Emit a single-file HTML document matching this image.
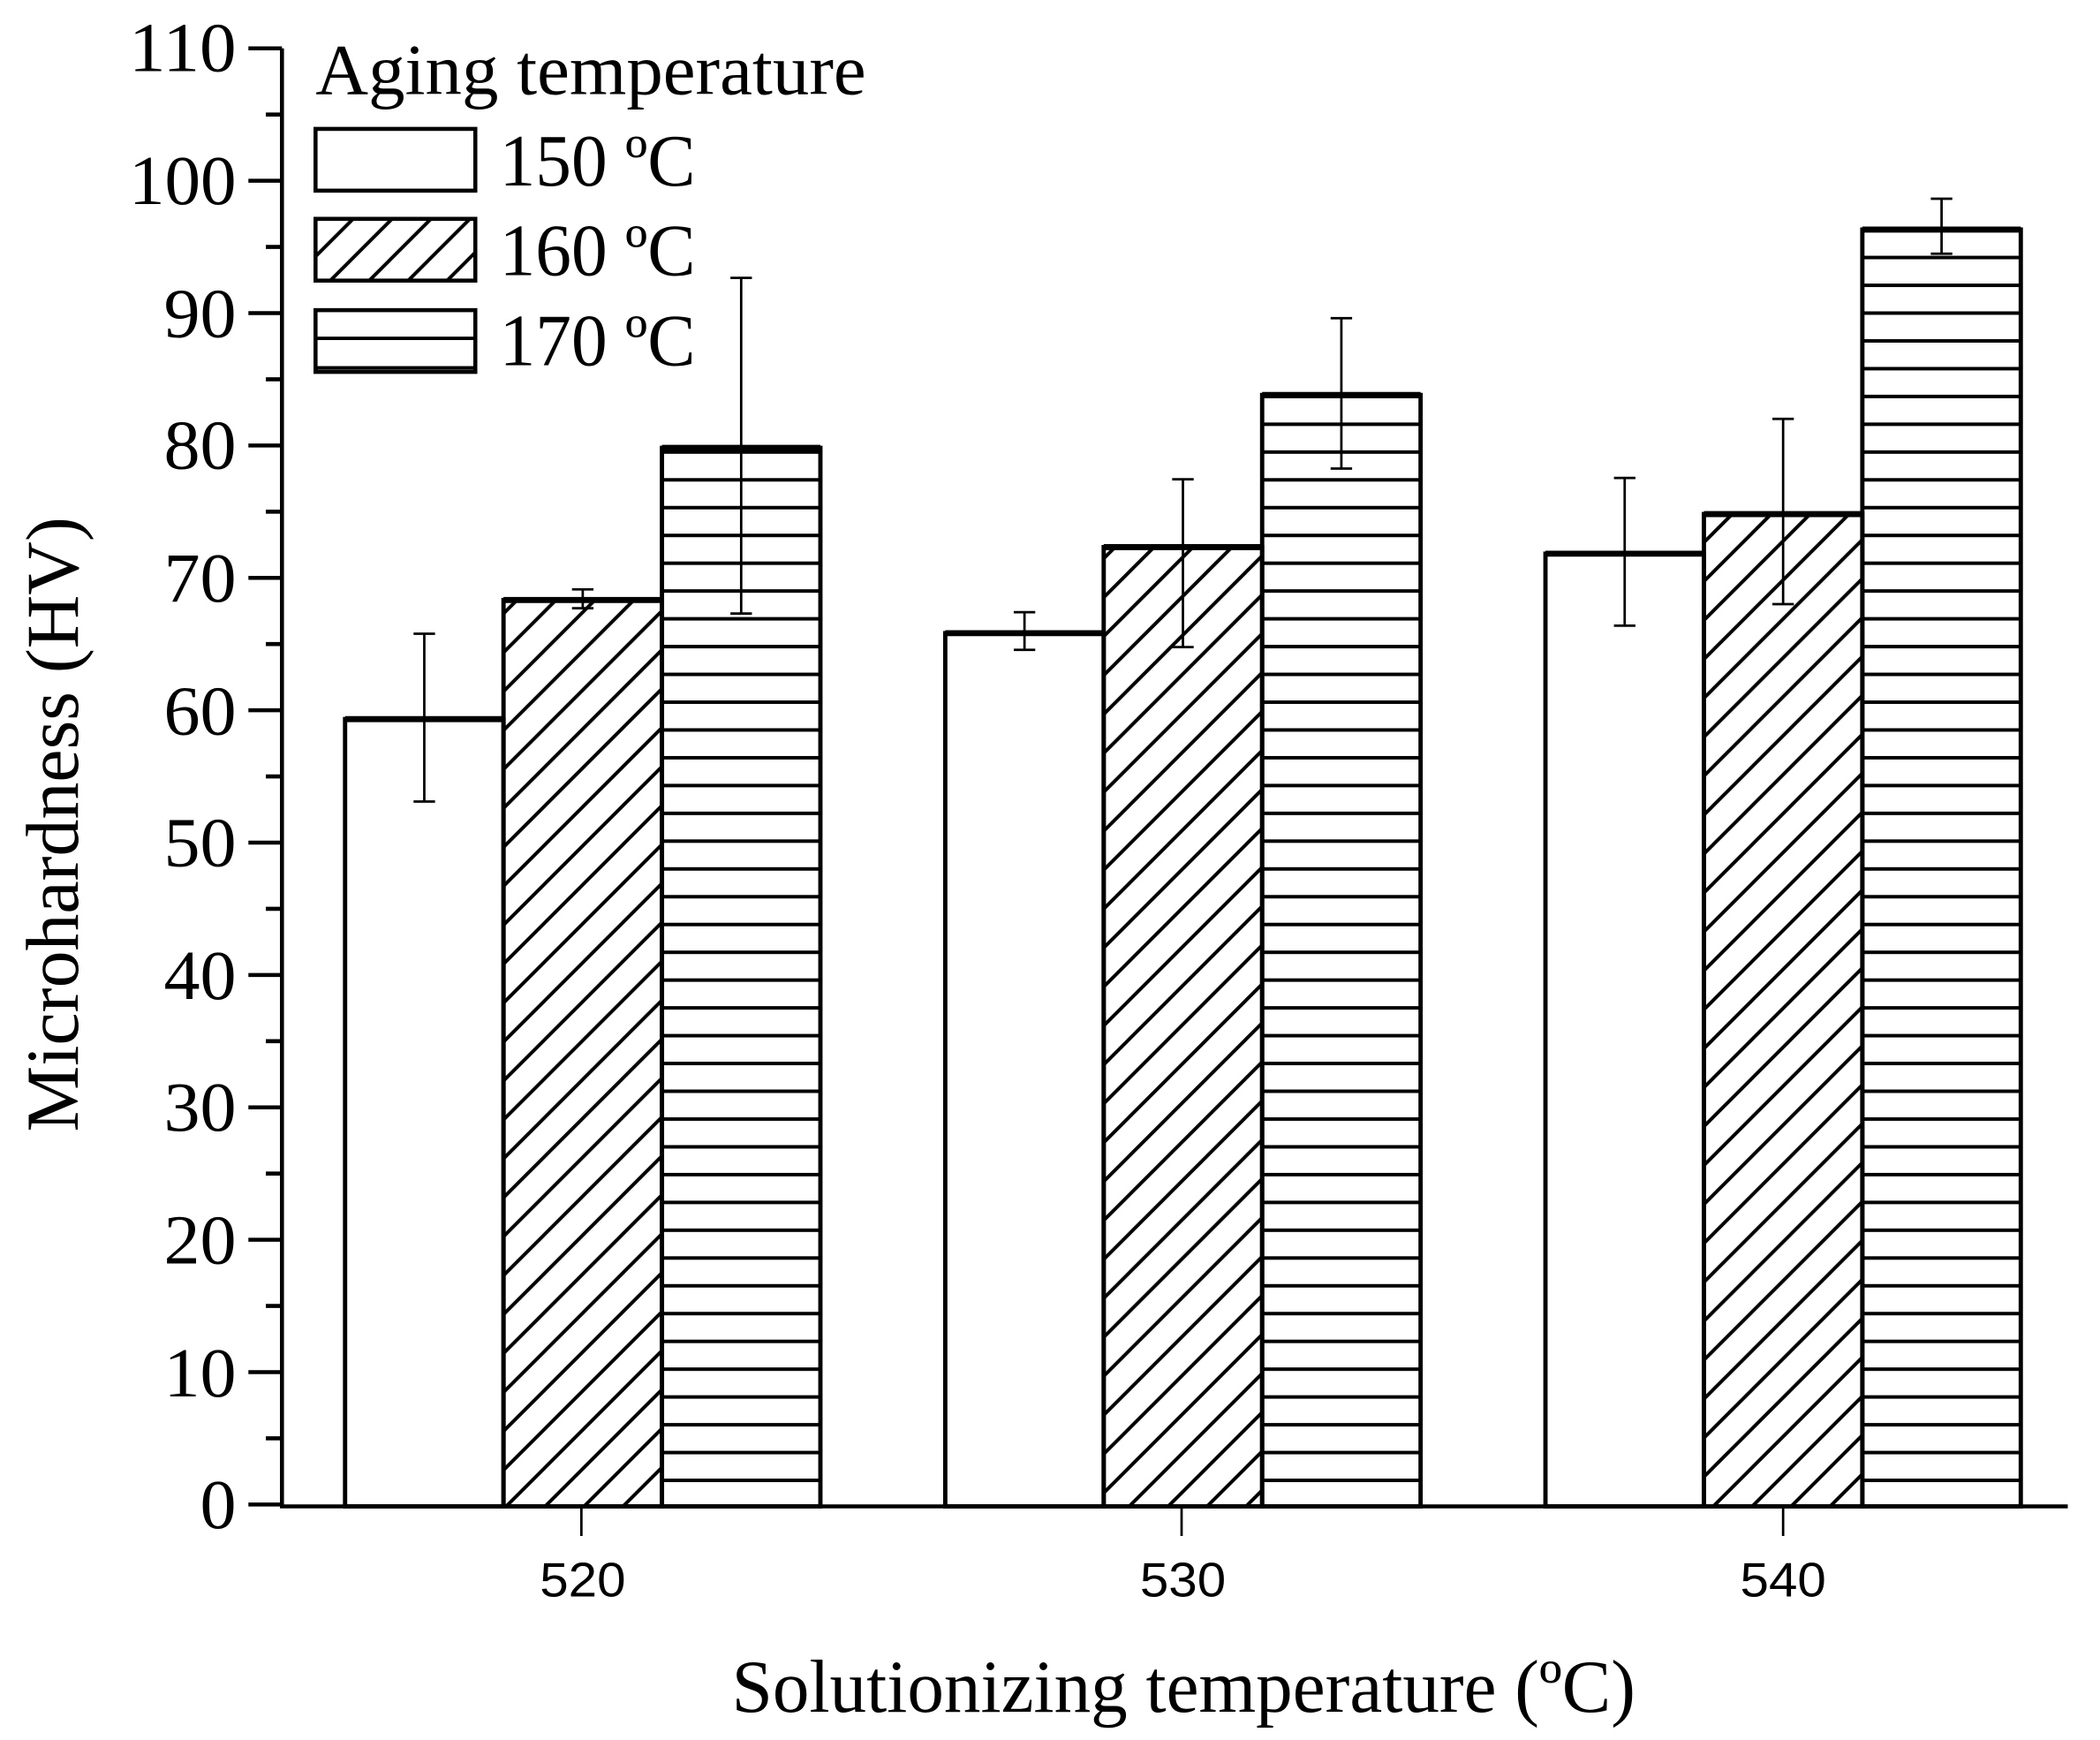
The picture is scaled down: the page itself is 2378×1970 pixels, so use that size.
<!DOCTYPE html>
<html><head><meta charset="utf-8"><style>html,body{margin:0;padding:0;background:#fff}svg{display:block}</style></head>
<body>
<svg width="2378" height="1970" viewBox="0 0 1564 1296" preserveAspectRatio="none" xmlns="http://www.w3.org/2000/svg">
<defs>
<pattern id="diag" patternUnits="userSpaceOnUse" width="29" height="29" x="0" y="1122">
<path d="M-3,32 L32,-3 M-3,3 L3,-3 M26,32 L32,26" stroke="#000" stroke-width="2.6"/>
</pattern>
<pattern id="hor" patternUnits="userSpaceOnUse" width="40" height="20.7" x="0" y="1122">
<rect x="0" y="0" width="40" height="2.6" fill="#000"/>
</pattern>
</defs>
<rect width="1564" height="1296" fill="#fff"/>
<g stroke="#000" stroke-width="3.2" fill="#fff">
<rect x="257" y="535.6" width="118" height="586.4"/>
<rect x="375" y="446.9" width="118" height="675.1" fill="url(#diag)"/>
<rect x="493" y="333.6" width="118" height="788.4" fill="url(#hor)"/>
<rect x="704" y="471.6" width="118" height="650.4"/>
<rect x="822" y="407.5" width="118" height="714.5" fill="url(#diag)"/>
<rect x="940" y="294.2" width="118" height="827.8" fill="url(#hor)"/>
<rect x="1151" y="412.4" width="118" height="709.6"/>
<rect x="1269" y="382.9" width="118" height="739.1" fill="url(#diag)"/>
<rect x="1387" y="171" width="118" height="951" fill="url(#hor)"/>
</g>
<g stroke="#000" stroke-width="4.5">
<path d="M257,535.6H375M375,446.9H493M493,333.6H611M704,471.6H822M822,407.5H940M940,294.2H1058M1151,412.4H1269M1269,382.9H1387M1387,171H1505"/>
</g>
<g stroke="#000" stroke-width="1.8" fill="none">
<path d="M316,472V597M308,472H324M308,597H324"/>
<path d="M434,439V453M426,439H442M426,453H442"/>
<path d="M552,207V457M544,207H560M544,457H560"/>
<path d="M763,456V484M755,456H771M755,484H771"/>
<path d="M881,357V482M873,357H889M873,482H889"/>
<path d="M999,237V349M991,237H1007M991,349H1007"/>
<path d="M1210,356V466M1202,356H1218M1202,466H1218"/>
<path d="M1328,312V450M1320,312H1336M1320,450H1336"/>
<path d="M1446,148V189M1438,148H1454M1438,189H1454"/>
</g>
<g stroke="#000" stroke-width="3" fill="none">
<path d="M210,36V1122H1540"/>
<path d="M185,36H210M185,134.6H210M185,233.2H210M185,331.8H210M185,430.4H210M185,529H210M185,627.6H210M185,726.2H210M185,824.8H210M185,923.4H210M185,1022H210M185,1120.6H210"/>
<path d="M198,85.3H210M198,183.9H210M198,282.5H210M198,381.1H210M198,479.7H210M198,578.3H210M198,676.9H210M198,775.5H210M198,874.1H210M198,972.7H210M198,1071.3H210"/>
</g>
<g stroke="#000" stroke-width="1.8"><path d="M433,1122V1144M880,1122V1144M1328,1122V1144"/></g>
<g font-family="Liberation Serif, serif" font-size="52" text-anchor="end" fill="#000" lengthAdjust="spacingAndGlyphs">
<text x="176" y="53" textLength="80" lengthAdjust="spacingAndGlyphs">110</text><text x="176" y="152" textLength="80" lengthAdjust="spacingAndGlyphs">100</text><text x="176" y="251" textLength="54" lengthAdjust="spacingAndGlyphs">90</text>
<text x="176" y="349" textLength="54" lengthAdjust="spacingAndGlyphs">80</text><text x="176" y="448" textLength="54" lengthAdjust="spacingAndGlyphs">70</text><text x="176" y="547" textLength="54" lengthAdjust="spacingAndGlyphs">60</text>
<text x="176" y="645" textLength="54" lengthAdjust="spacingAndGlyphs">50</text><text x="176" y="744" textLength="54" lengthAdjust="spacingAndGlyphs">40</text><text x="176" y="842" textLength="54" lengthAdjust="spacingAndGlyphs">30</text>
<text x="176" y="941" textLength="54" lengthAdjust="spacingAndGlyphs">20</text><text x="176" y="1040" textLength="54" lengthAdjust="spacingAndGlyphs">10</text><text x="176" y="1138" textLength="27" lengthAdjust="spacingAndGlyphs">0</text>
</g>
<g font-family="Liberation Sans, sans-serif" font-size="36" text-anchor="middle" fill="#000">
<text x="434" y="1189" textLength="64" lengthAdjust="spacingAndGlyphs">520</text><text x="881" y="1189" textLength="64" lengthAdjust="spacingAndGlyphs">530</text><text x="1328" y="1189" textLength="64" lengthAdjust="spacingAndGlyphs">540</text>
</g>
<text x="545" y="1275" font-family="Liberation Serif, serif" font-size="56" textLength="673" lengthAdjust="spacingAndGlyphs">Solutionizing temperature (ºC)</text>
<text transform="translate(58,843) rotate(-90)" font-family="Liberation Serif, serif" font-size="56" textLength="458" lengthAdjust="spacingAndGlyphs">Microhardness (HV)</text>
<text x="235" y="70" font-family="Liberation Serif, serif" font-size="54" textLength="410" lengthAdjust="spacingAndGlyphs">Aging temperature</text>
<g stroke="#000" stroke-width="3" fill="#fff">
<rect x="235" y="96" width="119" height="46"/>
<rect x="235" y="163" width="119" height="46" fill="url(#diag)"/>
<rect x="235" y="231" width="119" height="46"/>
</g>
<path d="M235,252H354M235,274H354" stroke="#000" stroke-width="2.6"/>
<g font-family="Liberation Serif, serif" font-size="55">
<text x="372" y="138" textLength="146" lengthAdjust="spacingAndGlyphs">150 ºC</text><text x="372" y="205" textLength="146" lengthAdjust="spacingAndGlyphs">160 ºC</text><text x="372" y="272" textLength="146" lengthAdjust="spacingAndGlyphs">170 ºC</text>
</g>
</svg>
</body></html>
